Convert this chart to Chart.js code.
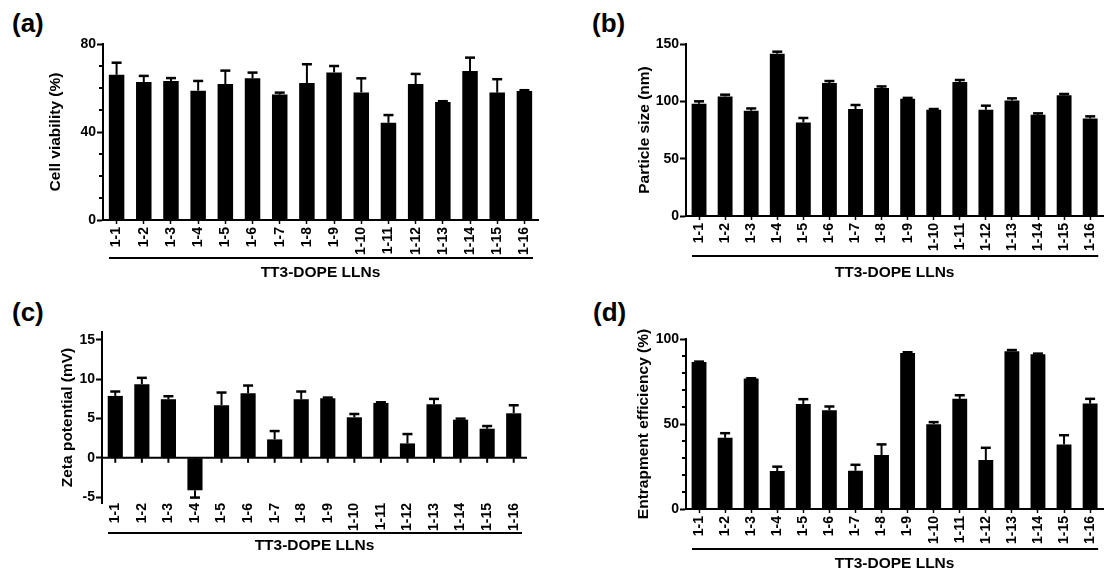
<!DOCTYPE html>
<html>
<head>
<meta charset="utf-8">
<script src="https://cdn.jsdelivr.net/npm/chart.js@4.4.1/dist/chart.umd.min.js"></script>
<style>
    html, body { margin: 0; padding: 0; background: #ffffff; }
    body { width: 1110px; height: 579px; position: relative; overflow: hidden; font-family: 'Liberation Sans', Arial, sans-serif; }
    .panel { position: absolute; }
    .tag { position: absolute; font-weight: bold; font-size: 26px; line-height: 1; color: #000; }
</style>
</head>
<body>
<div class="tag" style="left:12px; top:10px;">(a)</div>
<div class="tag" style="left:592px; top:10px;">(b)</div>
<div class="tag" style="left:12px; top:299px;">(c)</div>
<div class="tag" style="left:593px; top:299px;">(d)</div>

<div class="panel" style="left:0; top:0; width:555px; height:290px;"><canvas id="chartA"></canvas></div>
<div class="panel" style="left:555px; top:0; width:555px; height:290px;"><canvas id="chartB"></canvas></div>
<div class="panel" style="left:0; top:290px; width:555px; height:289px;"><canvas id="chartC"></canvas></div>
<div class="panel" style="left:555px; top:290px; width:555px; height:289px;"><canvas id="chartD"></canvas></div>

<script>
const formulations = ['1-1', '1-2', '1-3', '1-4', '1-5', '1-6', '1-7', '1-8',
    '1-9', '1-10', '1-11', '1-12', '1-13', '1-14', '1-15', '1-16'];
const groupTitle = 'TT3-DOPE LLNs';

// (a) cell viability, mean and SD
const viabilityMean = [66, 62.7, 63.2, 58.8, 61.8, 64.4, 57, 62.3, 67.1, 58, 44.2, 61.8, 53.6, 67.7, 57.9, 58.6];
const viabilitySd = [5.5, 2.8, 1.3, 4.4, 6.1, 2.6, 0.9, 8.5, 2.9, 6.4, 3.5, 4.6, 0.4, 6.1, 6.1, 0.4];
const viabilityTicks = [0, 40, 80];

// (b) particle size
const sizeMean = [97.9, 104.3, 91.8, 141.5, 81.6, 116, 93.3, 111.6, 102.3, 92.7, 116.9, 92.7, 100.8, 88.3, 105.2, 85.1];
const sizeSd = [2.1, 1.5, 2.0, 1.8, 3.9, 1.7, 3.5, 1.4, 0.7, 0.6, 1.7, 3.5, 1.8, 1.2, 1.2, 1.8];
const sizeTicks = [0, 50, 100, 150];

// (c) zeta potential
const zetaMean = [7.87, 9.36, 7.45, -4.13, 6.68, 8.21, 2.34, 7.45, 7.57, 5.15, 6.98, 1.83, 6.81, 4.85, 3.7, 5.66];
const zetaSd = [0.56, 0.81, 0.38, 0.93, 1.62, 0.98, 1.06, 0.98, 0.09, 0.42, 0.08, 1.19, 0.68, 0.13, 0.34, 1.02];
const zetaTicks = [-5, 0, 5, 10, 15];

// (d) entrapment efficiency
const entrapMean = [86.5, 41.9, 76.7, 22.3, 61.8, 58.1, 22.5, 31.7, 91.8, 49.9, 64.8, 28.8, 92.8, 91, 38, 62];
const entrapSd = [0.2, 2.7, 0.2, 2.6, 2.8, 2.2, 3.5, 6.3, 0.4, 1.2, 2.1, 7.2, 0.7, 0.4, 5.4, 2.8];
const entrapTicks = [0, 50, 100];

const FONT = "'Liberation Sans', Arial, sans-serif";

// Prism-style extras: error bars, minor ticks, zero line, group underline
const makePrismPlugin = (cfg) => ({
    id: 'prism',
    afterDraw(chart) {
        const { ctx, chartArea } = chart;
        const xScale = chart.scales.x;
        const yScale = chart.scales.y;
        const meta = chart.getDatasetMeta(0);

        ctx.save();
        ctx.strokeStyle = '#000';
        ctx.lineCap = 'butt';

        // error bars point away from zero
        meta.data.forEach((bar, i) => {
            const m = cfg.mean[i];
            const end = m + (m < 0 ? -1 : 1) * cfg.sd[i];
            const yEnd = yScale.getPixelForValue(end);
            ctx.lineWidth = 2;
            ctx.beginPath();
            ctx.moveTo(bar.x, bar.y);
            ctx.lineTo(bar.x, yEnd);
            ctx.stroke();
            ctx.lineWidth = 2.5;
            ctx.beginPath();
            ctx.moveTo(bar.x - 5, yEnd);
            ctx.lineTo(bar.x + 5, yEnd);
            ctx.stroke();
        });

        // minor ticks on the value axis
        if (cfg.minorStep > 0) {
            ctx.lineWidth = 2;
            const n = Math.round((cfg.max - cfg.min) / cfg.minorStep);
            for (let k = 0; k <= n; k++) {
                const v = cfg.min + k * cfg.minorStep;
                if (cfg.ticks.some((t) => Math.abs(t - v) < 1e-6)) continue;
                const y = yScale.getPixelForValue(v);
                ctx.beginPath();
                ctx.moveTo(chartArea.left - 4, y);
                ctx.lineTo(chartArea.left, y);
                ctx.stroke();
            }
        }

        // zero line with ticks when the axis goes negative
        if (cfg.zeroLine) {
            const y0 = yScale.getPixelForValue(0);
            ctx.lineWidth = 2;
            ctx.beginPath();
            ctx.moveTo(chartArea.left, y0);
            ctx.lineTo(chartArea.right, y0);
            ctx.stroke();
            formulations.forEach((_, i) => {
                const x = xScale.getPixelForValue(i);
                ctx.beginPath();
                ctx.moveTo(x, y0);
                ctx.lineTo(x, y0 + 5);
                ctx.stroke();
            });
        }

        // underline grouping all the formulations
        const yl = chartArea.bottom + cfg.underline;
        ctx.lineWidth = 2;
        ctx.beginPath();
        ctx.moveTo(xScale.left + 6, yl);
        ctx.lineTo(xScale.right - 5, yl);
        ctx.stroke();
        ctx.restore();
    }
});

const createPanel = (id, cfg) => {
    const ctx = document.getElementById(id).getContext('2d');
    return new Chart(ctx, {
        type: 'bar',
        data: {
            labels: formulations,
            datasets: [{
                data: cfg.mean,
                backgroundColor: '#000000',
                borderWidth: 0,
                barPercentage: 0.57,
                categoryPercentage: 1
            }]
        },
        options: {
            responsive: true,
            maintainAspectRatio: false,
            animation: false,
            layout: { padding: cfg.padding },
            plugins: {
                legend: { display: false },
                tooltip: { enabled: false }
            },
            scales: {
                x: {
                    afterFit: (scale) => { scale.height = cfg.xHeight; },
                    offset: true,
                    border: { display: !cfg.zeroLine, color: '#000', width: 2 },
                    grid: {
                        display: !cfg.zeroLine,
                        offset: false,
                        drawOnChartArea: false,
                        drawTicks: !cfg.zeroLine,
                        tickLength: 4,
                        tickColor: '#000',
                        tickWidth: 1.5
                    },
                    ticks: {
                        autoSkip: false,
                        minRotation: 90,
                        maxRotation: 90,
                        padding: cfg.zeroLine ? 0 : 3,
                        color: '#000',
                        font: { family: FONT, size: 14, weight: 'bold' }
                    },
                    title: {
                        display: true,
                        text: groupTitle,
                        color: '#000',
                        padding: { top: 0, bottom: cfg.titlePad },
                        font: { family: FONT, size: 15.5, weight: 'bold' }
                    }
                },
                y: {
                    afterFit: (scale) => { scale.width = cfg.yWidth; },
                    min: cfg.min,
                    max: cfg.max,
                    border: { display: true, color: '#000', width: 2 },
                    grid: {
                        drawOnChartArea: false,
                        drawTicks: true,
                        tickLength: 6,
                        tickColor: '#000',
                        tickWidth: 2
                    },
                    afterBuildTicks: (scale) => {
                        scale.ticks = cfg.ticks.map((v) => ({ value: v }));
                    },
                    ticks: {
                        padding: 1,
                        color: '#000',
                        font: { family: FONT, size: 14, weight: 'bold' }
                    },
                    title: {
                        display: true,
                        text: cfg.yTitle,
                        color: '#000',
                        padding: { top: 0, bottom: 0 },
                        font: { family: FONT, size: 15.5, weight: 'bold' }
                    }
                }
            }
        },
        plugins: [makePrismPlugin(cfg)]
    });
};

window.addEventListener('DOMContentLoaded', () => {
    createPanel('chartA', {
        mean: viabilityMean, sd: viabilitySd, ticks: viabilityTicks,
        min: 0, max: 80, minorStep: 10, yTitle: 'Cell viability (%)',
        padding: { left: 46, top: 44, right: 17, bottom: 0 },
        yWidth: 57, xHeight: 70, titlePad: 8, underline: 38
    });
    createPanel('chartB', {
        mean: sizeMean, sd: sizeSd, ticks: sizeTicks,
        min: 0, max: 150, minorStep: 0, yTitle: 'Particle size (nm)',
        padding: { left: 80, top: 44, right: 0, bottom: 0 },
        yWidth: 51, xHeight: 74, titlePad: 8, underline: 40
    });
    createPanel('chartC', {
        mean: zetaMean, sd: zetaSd, ticks: zetaTicks,
        min: -5.75, max: 16, minorStep: 0, yTitle: 'Zeta potential (mV)', zeroLine: true,
        padding: { left: 58, top: 42, right: 28, bottom: 0 },
        yWidth: 44, xHeight: 76, titlePad: 24, underline: 30
    });
    createPanel('chartD', {
        mean: entrapMean, sd: entrapSd, ticks: entrapTicks,
        min: 0, max: 100, minorStep: 10, yTitle: 'Entrapment efficiency (%)',
        padding: { left: 79, top: 49, right: 3, bottom: 0 },
        yWidth: 52, xHeight: 70, titlePad: 6, underline: 40
    });
});
</script>
</body>
</html>
